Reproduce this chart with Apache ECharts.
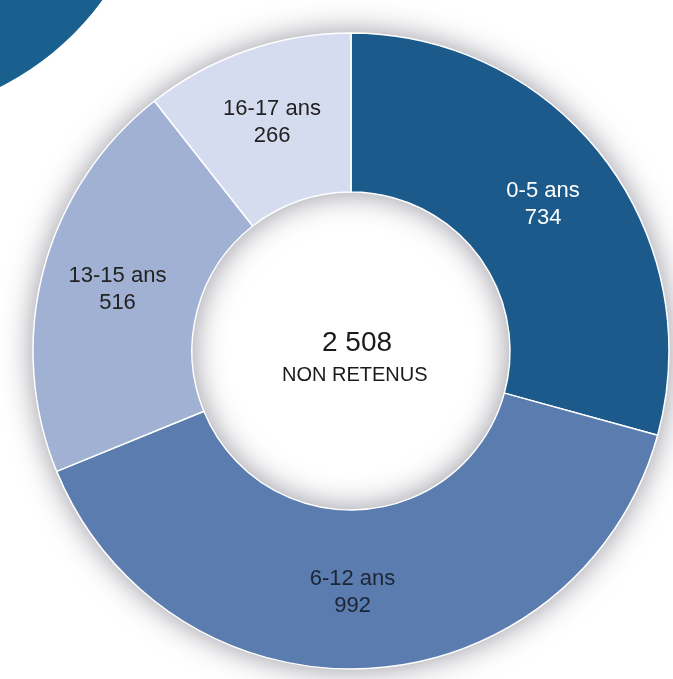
<!DOCTYPE html>
<html>
<head>
<meta charset="utf-8">
<script src="https://cdn.jsdelivr.net/npm/echarts@6/dist/echarts.min.js"></script>
<style>
html,body{margin:0;padding:0;background:#fff;}
#chart{width:673px;height:679px;}
</style>
</head>
<body>
<div id="chart"></div>
<script>
const categories = ['0-5 ans', '6-12 ans', '13-15 ans', '16-17 ans'];
const values = [734, 992, 516, 266];
const sliceColors = ['#1b5a8b', '#5a7caf', '#a0b1d3', '#d5dcef'];
const labelColors = ['#ffffff', '#1c2536', '#222222', '#222222'];
const centerSubtitle = 'NON RETENUS';

const total = values.reduce((a, b) => a + b, 0);
const totalText = String(total).replace(/\B(?=(\d{3})+(?!\d))/g, ' ');
const FONT = "'Liberation Sans', Arial, sans-serif";

const chart = echarts.init(document.getElementById('chart'));
chart.setOption({
  animation: false,
  backgroundColor: '#ffffff',
  graphic: [
    {
      type: 'circle', z: 0,
      shape: { cx: -130, cy: -170, r: 288 },
      style: { fill: '#19608f' }
    },
    {
      type: 'text', z: 10, top: 329, left: 322,
      style: { text: totalText, font: '28px ' + FONT, fill: '#1a1a1a' }
    },
    {
      type: 'text', z: 10, top: 365, left: 282,
      style: { text: centerSubtitle, font: '20px ' + FONT, fill: '#1a1a1a' }
    }
  ],
  series: [
    {
      type: 'pie', silent: true, z: 1,
      center: [351, 351], radius: [159, 318],
      label: { show: false }, labelLine: { show: false },
      itemStyle: { color: '#8a9bbd', shadowBlur: 30, shadowColor: 'rgba(40,40,60,0.5)' },
      data: [{ value: 1, name: '' }]
    },
    {
      type: 'pie', z: 2,
      center: [351, 351], radius: [159, 318],
      startAngle: 90, clockwise: true,
      avoidLabelOverlap: false,
      itemStyle: { borderColor: '#ffffff', borderWidth: 1.5 },
      label: {
        show: true, position: 'inside',
        formatter: p => p.name + '\n' + p.value,
        fontFamily: FONT, fontSize: 22, lineHeight: 27
      },
      labelLine: { show: false },
      data: categories.map((c, i) => ({
        name: c, value: values[i],
        itemStyle: { color: sliceColors[i] },
        label: i === 1 ? { color: labelColors[i], offset: [-13, 0] } : { color: labelColors[i] }
      }))
    }
  ]
});
</script>
</body>
</html>
